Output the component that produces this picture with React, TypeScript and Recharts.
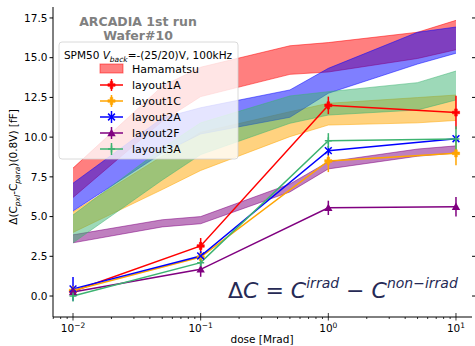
import React from 'react'
import { Area, ComposedChart, ErrorBar, Line, XAxis, YAxis } from 'recharts'

// band doses (Mrad) and lower / upper band edges
const BAND_DOSE = [0.01, 0.05, 0.1, 0.5, 1, 5, 10]
const HAM_LO = [6.2, 11.0, 12.55, 13.95, 14.1, 14.95, 15.5]
const HAM_HI = [8.05, 13.2, 14.4, 15.75, 15.95, 16.6, 17.35]
const C1C_LO = [4.0, 6.7, 7.9, 10.03, 10.76, 10.9, 11.05]
const C1C_HI = [5.3, 8.8, 10.3, 11.6, 12.13, 12.49, 12.65]
const C2A_LO = [5.35, 9.0, 10.2, 11.25, 12.76, 14.6, 15.28]
const C2A_HI = [7.1, 11.2, 11.85, 12.97, 14.33, 16.6, 16.93]
const C2F_LO = [3.35, 4.35, 4.55, 6.55, 8.0, 8.8, 9.0]
const C2F_HI = [3.85, 4.8, 5.0, 7.05, 8.45, 9.25, 9.45]
const C3A_LO = [3.35, 7.3, 8.9, 10.87, 11.39, 11.71, 12.34]
const C3A_HI = [5.1, 9.3, 10.9, 12.59, 12.86, 13.43, 14.16]

// measured points
const DOSE = [0.01, 0.1, 1, 10]
const L1A = [0.3, 3.15, 12.0, 11.55]
const L1A_ERR = [0.2, 0.5, 0.55, 1.05]
const L1C = [0.35, 2.45, 8.5, 8.98]
const L1C_ERR = [0.3, 0.35, 0.7, 0.75]
const L2A = [0.45, 2.52, 9.15, 9.9]
const L2A_ERR = [0.75, 0.3, 0.3, 0.2]
const L2F = [0.25, 1.68, 5.55, 5.62]
const L2F_ERR = [0.25, 0.47, 0.45, 0.62]
const L3A = [0.0, 2.1, 9.78, 9.88]
const L3A_ERR = [0.35, 0.3, 0.47, 0.8]

const Y_TICKS = [0, 2.5, 5, 7.5, 10, 12.5, 15, 17.5]
const X_MAJOR = [0.01, 0.1, 1, 10]
const X_MAJOR_LABEL = ['−2', '−1', '0', '1']

const RED = '#ff0000'
const ORANGE = '#ffa500'
const BLUE = '#0000ff'
const PURPLE = '#800080'
const GREEN = '#3cb371'
const FONT = '"DejaVu Sans", sans-serif'

const X_DOMAIN: [number, number] = [0.00697, 13.35]
const Y_DOMAIN: [number, number] = [-1.32, 18.19]

const X_MINOR: number[] = []
for (const dec of [0.001, 0.01, 0.1, 1]) {
  for (let k = 2; k <= 9; k++) {
    const v = +(dec * k).toPrecision(3)
    if (v > X_DOMAIN[0] && v < X_DOMAIN[1]) X_MINOR.push(v)
  }
}

const bandRows = BAND_DOSE.map((dose, i) => ({
  dose,
  ham: [HAM_LO[i], HAM_HI[i]],
  c1c: [C1C_LO[i], C1C_HI[i]],
  c2a: [C2A_LO[i], C2A_HI[i]],
  c2f: [C2F_LO[i], C2F_HI[i]],
  c3a: [C3A_LO[i], C3A_HI[i]],
}))

function points(vals: number[], errs: number[]) {
  return DOSE.map((dose, i) => ({ dose, v: vals[i], e: errs[i] }))
}

type MarkerKind = 'P' | 'x' | '^' | '+'

function Marker({ kind, cx, cy, color }: { kind: MarkerKind; cx: number; cy: number; color: string }) {
  if (kind === 'P') {
    const a = 3.6
    const b = 1.3
    return (
      <path
        d={`M${cx - b},${cy - a}h${2 * b}v${a - b}h${a - b}v${2 * b}h${-(a - b)}v${a - b}h${-2 * b}v${-(a - b)}h${-(a - b)}v${-2 * b}h${a - b}z`}
        fill={color}
        stroke={color}
        strokeWidth={0.6}
      />
    )
  }
  if (kind === 'x') {
    const r = 3.4
    return (
      <path d={`M${cx - r},${cy - r}L${cx + r},${cy + r}M${cx - r},${cy + r}L${cx + r},${cy - r}`} stroke={color} strokeWidth={1.5} />
    )
  }
  if (kind === '^') {
    const r = 4.2
    return <path d={`M${cx},${cy - r}L${cx + r},${cy + r * 0.75}L${cx - r},${cy + r * 0.75}z`} fill={color} />
  }
  const r = 3.5
  return <path d={`M${cx - r},${cy}H${cx + r}M${cx},${cy - r}V${cy + r}`} stroke={color} strokeWidth={1.5} />
}

interface Series {
  name: string
  color: string
  marker: MarkerKind
  data: { dose: number; v: number; e: number }[]
}

const SERIES: Series[] = [
  { name: 'layout1A', color: RED, marker: 'P', data: points(L1A, L1A_ERR) },
  { name: 'layout1C', color: ORANGE, marker: 'P', data: points(L1C, L1C_ERR) },
  { name: 'layout2A', color: BLUE, marker: 'x', data: points(L2A, L2A_ERR) },
  { name: 'layout2F', color: PURPLE, marker: '^', data: points(L2F, L2F_ERR) },
  { name: 'layout3A', color: GREEN, marker: '+', data: points(L3A, L3A_ERR) },
]

const BANDS = [
  { key: 'ham', color: RED },
  { key: 'c1c', color: ORANGE },
  { key: 'c2a', color: BLUE },
  { key: 'c2f', color: PURPLE },
  { key: 'c3a', color: GREEN },
]

function XTick(props: { x?: number; y?: number; payload?: { value: number } }) {
  const { x = 0, y = 0, payload } = props
  const v = payload?.value ?? 0
  const idx = X_MAJOR.findIndex((m) => Math.abs(m - v) < v * 1e-6)
  if (idx < 0) {
    return <line x1={x} x2={x} y1={y} y2={y + 2} stroke="#000" strokeWidth={0.8} />
  }
  return (
    <g>
      <line x1={x} x2={x} y1={y - 4} y2={y + 3.5} stroke="#000" strokeWidth={0.8} />
      <text x={x} y={y + 15} textAnchor="middle" fontSize={10.5} fontFamily={FONT} fill="#000">
        <tspan>10</tspan>
        <tspan dy={-4.5} fontSize={7.5}>{X_MAJOR_LABEL[idx]}</tspan>
      </text>
    </g>
  )
}

function Overlay() {
  const rows = SERIES.map((s, i) => ({ ...s, y: 85 + i * 16 }))
  return (
    <svg width={475} height={346} style={{ position: 'absolute', left: 0, top: 0, pointerEvents: 'none' }} fontFamily={FONT}>
      <text x={138} y={26} textAnchor="middle" fontSize={12.5} fontWeight="bold" fill="#808080">
        ARCADIA 1st run
      </text>
      <text x={138} y={40} textAnchor="middle" fontSize={12.5} fontWeight="bold" fill="#808080">
        Wafer#10
      </text>

      <rect x={59} y={42} width={179} height={117} rx={3} fill="#ffffff" fillOpacity={0.8} stroke="#d0d0d0" strokeWidth={0.8} />
      <text x={148} y={59} textAnchor="middle" fontSize={10.5} fill="#000">
        <tspan>SPM50 </tspan>
        <tspan fontStyle="italic">V</tspan>
        <tspan dy={2.5} fontSize={7.5} fontStyle="italic">back</tspan>
        <tspan dy={-2.5}>=-(25/20)V, 100kHz</tspan>
      </text>
      <rect x={100} y={64} width={23} height={9} fill={RED} fillOpacity={0.5} stroke={RED} strokeOpacity={0.5} />
      <text x={132} y={72.5} fontSize={11} fill="#000">Hamamatsu</text>
      {rows.map((r) => (
        <g key={r.name}>
          <line x1={100} x2={123} y1={r.y} y2={r.y} stroke={r.color} strokeWidth={1.5} />
          <line x1={111.5} x2={111.5} y1={r.y - 6} y2={r.y + 6} stroke={r.color} strokeWidth={1.5} />
          <Marker kind={r.marker} cx={111.5} cy={r.y} color={r.color} />
          <text x={132} y={r.y + 4} fontSize={11} fill="#000">{r.name}</text>
        </g>
      ))}

      <text x={228} y={298} fontSize={22} fill="#262a55">
        <tspan>Δ</tspan>
        <tspan fontStyle="italic">C</tspan>
        <tspan> = </tspan>
        <tspan fontStyle="italic">C</tspan>
        <tspan dy={-10} fontSize={14} fontStyle="italic">irrad</tspan>
        <tspan dy={10}> − </tspan>
        <tspan fontStyle="italic">C</tspan>
        <tspan dy={-10} fontSize={14} fontStyle="italic">non−irrad</tspan>
      </text>

      <text x={262} y={343} textAnchor="middle" fontSize={10.5} fill="#000">dose [Mrad]</text>
      <text transform="translate(17,167) rotate(-90)" textAnchor="middle" fontSize={10.5} fill="#000">
        <tspan>Δ(C</tspan>
        <tspan dy={2.5} fontSize={7.5} fontStyle="italic">pxl</tspan>
        <tspan dy={-2.5}>-C</tspan>
        <tspan dy={2.5} fontSize={7.5} fontStyle="italic">para</tspan>
        <tspan dy={-2.5}>)(0.8V) [fF]</tspan>
      </text>
    </svg>
  )
}

export default function App() {
  return (
    <div style={{ position: 'absolute', left: 0, top: 0, width: 475, height: 346, background: '#fff' }}>
      <ComposedChart width={475} height={346} data={bandRows} margin={{ top: 7, right: 0, bottom: 0, left: 8 }}>
        <XAxis
          dataKey="dose"
          type="number"
          scale="log"
          domain={X_DOMAIN}
          allowDataOverflow
          ticks={[...X_MAJOR, ...X_MINOR]}
          interval={0}
          tick={<XTick />}
          tickLine={false}
          tickSize={0}
          tickMargin={0}
          axisLine={{ stroke: '#000', strokeWidth: 1 }}
          height={29}
        />
        <XAxis
          xAxisId="top"
          orientation="top"
          dataKey="dose"
          type="number"
          scale="log"
          domain={X_DOMAIN}
          allowDataOverflow
          ticks={X_MAJOR}
          tickFormatter={() => ''}
          tickSize={4}
          mirror
          axisLine={{ stroke: '#000', strokeWidth: 1 }}
          tickLine={{ stroke: '#000' }}
          height={0}
        />
        <YAxis
          type="number"
          domain={Y_DOMAIN}
          allowDataOverflow
          ticks={Y_TICKS}
          interval={0}
          tickFormatter={(v: number) => v.toFixed(1)}
          tick={{ fill: '#000', fontSize: 10.5, fontFamily: FONT }}
          tickSize={3.5}
          tickMargin={2}
          tickLine={{ stroke: '#000' }}
          axisLine={{ stroke: '#000', strokeWidth: 1 }}
          width={45}
        />
        <YAxis
          yAxisId="right"
          orientation="right"
          type="number"
          domain={Y_DOMAIN}
          allowDataOverflow
          ticks={Y_TICKS}
          interval={0}
          tickFormatter={() => ''}
          tickSize={4}
          tickLine={{ stroke: '#000' }}
          axisLine={false}
          width={3}
        />
        {BANDS.map((b) => (
          <Area
            key={b.key}
            dataKey={b.key}
            type="linear"
            fill={b.color}
            fillOpacity={0.5}
            stroke={b.color}
            strokeOpacity={0.5}
            strokeWidth={1}
            dot={false}
            activeDot={false}
            isAnimationActive={false}
          />
        ))}
        {SERIES.map((s) => (
          <Line
            key={s.name}
            data={s.data}
            dataKey="v"
            type="linear"
            stroke={s.color}
            strokeWidth={1.5}
            isAnimationActive={false}
            activeDot={false}
            dot={(p: { cx?: number; cy?: number; index?: number }) => (
              <Marker key={`${s.name}-${p.index}`} kind={s.marker} cx={p.cx ?? 0} cy={p.cy ?? 0} color={s.color} />
            )}
          >
            <ErrorBar dataKey="e" direction="y" width={0} stroke={s.color} strokeWidth={1.5} isAnimationActive={false} />
          </Line>
        ))}
      </ComposedChart>
      <Overlay />
    </div>
  )
}
